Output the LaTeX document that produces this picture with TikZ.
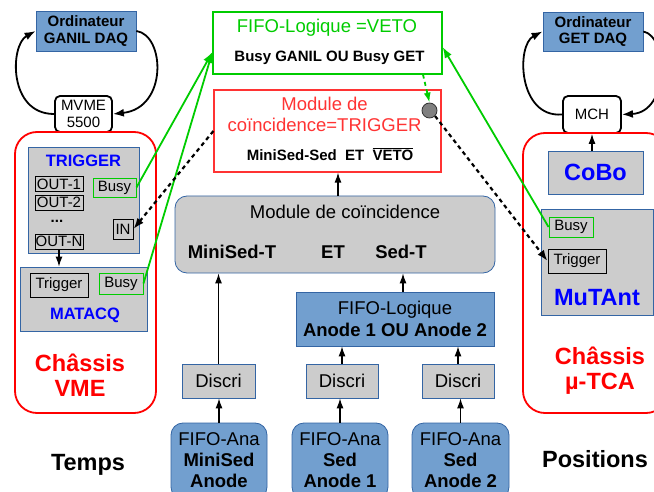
\documentclass[tikz,border=0pt]{standalone}
\usepackage{fontspec}
\setmainfont{Liberation Sans}
\usetikzlibrary{arrows.meta,calc}
\definecolor{bfill}{HTML}{729FCF}
\definecolor{bline}{HTML}{3465A4}
\definecolor{gfill}{HTML}{CCCCCC}
\definecolor{tblue}{HTML}{0000FF}
\definecolor{vred}{HTML}{FF0000}
\definecolor{mred}{HTML}{FF3333}
\definecolor{vgreen}{HTML}{00CC00}
\newcommand\myfA{\fontsize{15}{16.8}\selectfont}
\newcommand\myfB{\fontsize{18.5}{21.3}\selectfont}
\newcommand\myfC{\fontsize{23.5}{25}\selectfont}
\newcommand\myfD{\fontsize{16.5}{19}\selectfont}
\begin{document}
\begin{tikzpicture}[x=1pt,y=-1pt,
  box/.style={draw, inner sep=0pt, align=center},
  bluebox/.style={box, fill=bfill, draw=bline, line width=0.8pt},
  greybox/.style={box, fill=gfill, draw=bline, line width=0.8pt},
  smallbox/.style={box, draw=black, line width=0.9pt, font=\myfA},
  busybox/.style={box, draw=vgreen, line width=0.9pt, font=\myfA},
  cpubox/.style={box, draw=black, fill=white, line width=1.8pt, rounded corners=5pt, font=\myfA},
  chassis/.style={box, draw=vred, line width=1.8pt, rounded corners=22pt},
  txt/.style={inner sep=0pt, align=center},
  arr/.style={-{Latex[length=10pt,width=7pt]}, line width=1.2pt},
  carr/.style={-{Latex[length=11pt,width=8pt]}, line width=1.8pt},
  garr/.style={-{Latex[length=11pt,width=8pt]}, line width=1.8pt, draw=vgreen},
  dblk/.style={-{Latex[length=11pt,width=8pt]}, line width=2.2pt, dash pattern=on 4pt off 3.5pt},
  dgrn/.style={-{Latex[length=10pt,width=7pt]}, line width=1.8pt, draw=vgreen, dash pattern=on 4pt off 3.5pt},
]
\useasboundingbox (0,0) rectangle (654,492);
\clip (0,0) rectangle (654,492);

% ---------------- left: VME
\node[bluebox, minimum width=100, minimum height=40, font=\myfA\bfseries] (gdaq) at (86,31) {Ordinateur\\GANIL DAQ};
\node[cpubox, minimum width=57, minimum height=36] (mvme) at (83.5,114) {MVME\\5500};
\node[chassis, minimum width=141, minimum height=281] (vme) at (85.5,272.5) {};
\node[greybox, minimum width=111, minimum height=106] (trig) at (83.5,200) {};
\node[txt, font=\myfD\bfseries, text=tblue] (trigT) at (83.5,161) {TRIGGER};
\node[smallbox, minimum width=48, minimum height=15] (out1) at (59,184) {OUT-1};
\node[smallbox, minimum width=48, minimum height=15] (out2) at (59,202.5) {OUT-2};
\node[txt, font=\myfA\bfseries, text height=3pt, text depth=0pt] (dots) at (57,221.5) {...};
\node[smallbox, minimum width=48, minimum height=15] (outn) at (59,241.5) {OUT-N};
\node[busybox, minimum width=43, minimum height=19] (busy1) at (114.5,187.5) {Busy};
\node[smallbox, minimum width=20, minimum height=20] (in) at (123,229) {IN};
\node[greybox, minimum width=127, minimum height=64] (matacq) at (83.5,299) {};
\node[smallbox, minimum width=58, minimum height=24] (trigM) at (59,285) {Trigger};
\node[busybox, minimum width=44, minimum height=21] (busyM) at (121,283.5) {Busy};
\node[txt, font=\myfD\bfseries, text=tblue] (matacqT) at (85,315) {MATACQ};
\node[txt, font=\myfC\bfseries, text=vred] (vmeT) at (80,375.5) {Châssis\\VME};
\node[txt, font=\myfC\bfseries] (temps) at (88,465) {Temps};

% ---------------- center
\node[box, draw=vgreen, line width=1.2pt, minimum width=229, minimum height=62] (veto) at (327.5,43) {};
\node[txt, font=\myfB, text=vgreen] (vetoT) at (327,28) {FIFO-Logique =VETO};
\node[txt, font=\myfA\bfseries] (vetoS) at (329.5,58) {Busy GANIL OU Busy GET};
\node[box, draw=mred, line width=1.2pt, minimum width=227, minimum height=82] (tmod) at (327.5,131) {};
\node[txt, font=\myfB, text=mred] (tmodT) at (324.6,114.5) {Module de\\coïncidence=TRIGGER};
\node[txt, font=\myfA\bfseries] (tmodS) at (330,154) {MiniSed-Sed~~ET~~$\overline{\mbox{VETO}}$};
\node[circle, draw=black!80, fill=black!50, line width=0.8pt, minimum size=15, inner sep=0pt] (gate) at (429.5,110.5) {};

\node[greybox, rounded corners=12pt, minimum width=320, minimum height=77] (coinc) at (335,234.5) {};
\node[txt, font=\myfB] (coincT) at (345,212) {Module de coïncidence};
\node[txt, font=\myfB\bfseries] (cmini) at (232,252) {MiniSed-T};
\node[txt, font=\myfB\bfseries] (cet) at (333,252) {ET};
\node[txt, font=\myfB\bfseries] (csed) at (401,252) {Sed-T};

\node[bluebox, minimum width=198, minimum height=54, font=\myfB] (fifoA) at (395,319) {FIFO-Logique\\\textbf{Anode 1 OU Anode 2}};

\node[greybox, minimum width=73, minimum height=34, font=\myfB] (d1) at (218.5,381) {Discri};
\node[greybox, minimum width=72, minimum height=34, font=\myfB] (d2) at (342,381) {Discri};
\node[greybox, minimum width=72, minimum height=34, font=\myfB] (d3) at (458,381) {Discri};

\node[bluebox, rounded corners=12pt, minimum width=96, minimum height=76] (fa1) at (219,461) {};
\node[bluebox, rounded corners=12pt, minimum width=96, minimum height=76] (fa2) at (340,461) {};
\node[bluebox, rounded corners=12pt, minimum width=97, minimum height=76] (fa3) at (460.5,461) {};
\node[txt, font=\myfB] (fa1T) at (219,460) {FIFO-Ana\\\textbf{MiniSed}\\\textbf{Anode}};
\node[txt, font=\myfB] (fa2T) at (340,460) {FIFO-Ana\\\textbf{Sed}\\\textbf{Anode 1}};
\node[txt, font=\myfB] (fa3T) at (460.5,460) {FIFO-Ana\\\textbf{Sed}\\\textbf{Anode 2}};

% ---------------- right: uTCA
\node[bluebox, minimum width=100, minimum height=39, font=\myfA\bfseries] (edaq) at (593,31.5) {Ordinateur\\GET DAQ};
\node[cpubox, minimum width=58, minimum height=37] (mch) at (592,114.5) {MCH};
\node[chassis, minimum width=145, minimum height=280] (tca) at (595.5,273) {};
\node[greybox, minimum width=95, minimum height=43, font=\myfC\bfseries, text=tblue] (cobo) at (595.5,172.5) {CoBo};
\node[greybox, minimum width=112, minimum height=106] (mutant) at (597,262) {};
\node[busybox, minimum width=44, minimum height=20] (busyT) at (571,227) {Busy};
\node[smallbox, minimum width=58, minimum height=24] (trigT2) at (577,261) {Trigger};
\node[txt, font=\myfC\bfseries, text=tblue] (mutantT) at (597,298) {MuTAnt};
\node[txt, font=\myfC\bfseries, text=vred] (tcaT) at (600,371) {Châssis\\µ-TCA};
\node[txt, font=\myfC\bfseries] (pos) at (595,459) {Positions};

% ---------------- connectors
\draw[carr] (mvme.west) .. controls (8,114) and (10,45) .. (gdaq.west);
\draw[carr] (gdaq.east) .. controls (165,35) and (168,108) .. (mvme.east);
\draw[carr] (mch.west) .. controls (518,118) and (516,45) .. (edaq.west);
\draw[carr] (edaq.east) .. controls (668,36) and (670,112) .. (mch.east);

\draw[arr] (outn.south) -- (outn.south |- matacq.north);
\draw[arr] (mch.south |- cobo.north) -- (mch.south);

\draw[arr] ([xshift=3pt]coinc.north) -- ([xshift=3pt]coinc.north |- tmod.south);
\draw[arr] (d1.north) -- (d1.north |- coinc.south);
\draw[arr] ([xshift=8pt]fifoA.north) -- ([xshift=8pt]fifoA.north |- coinc.south);
\draw[arr] (d2.north) -- (d2.north |- fifoA.south);
\draw[arr] (d3.north) -- (d3.north |- fifoA.south);
\draw[arr] (fa1.north) -- (fa1.north |- d1.south);
\draw[arr] (fa2.north) -- (fa2.north |- d2.south);
\draw[arr] (fa3.north) -- (fa3.north |- d3.south);

\draw[garr] (busy1.east) -- ([yshift=-9pt]veto.west);
\draw[garr] (busyM.east) -- ([yshift=-9pt]veto.west);
\draw[garr] (busyT.west) -- ([yshift=-4pt]veto.east);

\draw[dgrn] ([xshift=95.5pt]veto.south) -- (gate.north);
\draw[dblk] (tmod.west) -- (in.east);
\draw[dblk] (gate.south east) -- (trigT2.west);
\end{tikzpicture}
\end{document}
